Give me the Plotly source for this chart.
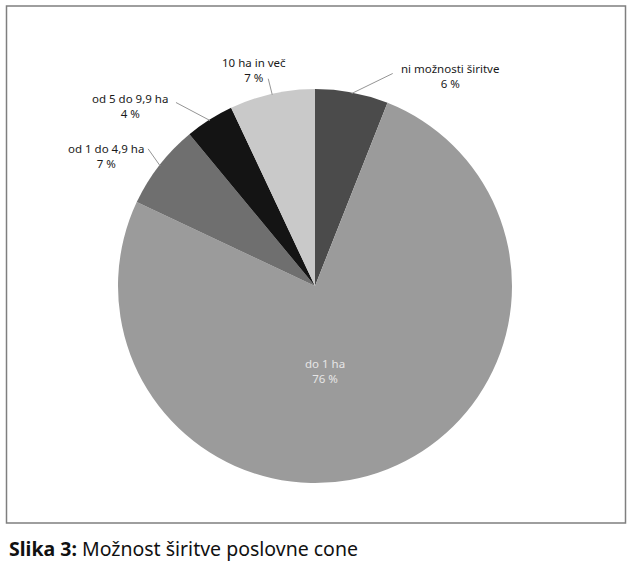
import math
import plotly.graph_objects as go

categories = ["ni možnosti širitve", "do 1 ha", "od 1 do 4,9 ha", "od 5 do 9,9 ha", "10 ha in več"]
values = [6, 76, 7, 4, 7]
pct_labels = ["6 %", "76 %", "7 %", "4 %", "7 %"]
colors = ["#4b4b4b", "#9b9b9b", "#6f6f6f", "#141414", "#c9c9c9"]

W, H = 637, 562
cx, cy, r = 315, 286, 197

fig = go.Figure(go.Pie(
    labels=categories, values=values, sort=False, direction="clockwise", rotation=0,
    marker=dict(colors=colors, line=dict(width=0)),
    textinfo="none", hoverinfo="label+percent", showlegend=False,
    domain=dict(x=[(cx - r) / W, (cx + r) / W], y=[(H - cy - r) / H, (H - cy + r) / H]),
))

# label placement relative to each slice's edge point (pixels): text centre, leader-line start
text_off = {0: (98, -17), 2: (-54, -10), 3: (-80, -15), 4: (-18, -25)}
line_off = {0: (41, -20), 2: (-12, -17), 3: (-34, -18), 4: (-4, -16)}

def px(x, y):
    return x / W, (H - y) / H

total = sum(values)
start = 0.0
annotations = []
shapes = [dict(type="rect", xref="paper", yref="paper",
               x0=6.5 / W, x1=625.5 / W, y0=(H - 523) / H, y1=(H - 6) / H,
               line=dict(color="#7f7f7f", width=1.5), fillcolor="rgba(0,0,0,0)")]
for i, v in enumerate(values):
    mid = math.radians((start + v / 2) / total * 360)
    start += v
    ex = cx + (r - 1) * math.sin(mid)
    ey = cy - (r - 1) * math.cos(mid)
    label = f"{categories[i]}<br>{pct_labels[i]}"
    if i in text_off:
        tx, ty = px(ex + text_off[i][0], ey + text_off[i][1])
        annotations.append(dict(
            x=tx, y=ty, xref="paper", yref="paper", xanchor="center", yanchor="middle",
            text=label, showarrow=False,
            font=dict(family="Noto Sans", size=11.5, color="#1a1a1a"), align="center",
        ))
        x0, y0 = px(ex + line_off[i][0], ey + line_off[i][1])
        x1, y1 = px(ex, ey)
        shapes.append(dict(type="line", xref="paper", yref="paper", x0=x0, y0=y0, x1=x1, y1=y1,
                           line=dict(color="#959595", width=1)))
    else:
        tx, ty = px(325, 371)
        annotations.append(dict(
            x=tx, y=ty, xref="paper", yref="paper", xanchor="center", yanchor="middle",
            text=label, showarrow=False,
            font=dict(family="Noto Sans", size=11.5, color="#e6e6e6"), align="center",
        ))

annotations.append(dict(
    x=7 / W, y=(H - 548) / H, xref="paper", yref="paper", xanchor="left", yanchor="middle",
    text="<b>Slika 3:</b> Možnost širitve poslovne cone", showarrow=False,
    font=dict(family="Noto Sans", size=19.5, color="#111111"),
))

fig.update_layout(
    width=W, height=H, margin=dict(l=0, r=0, t=0, b=0),
    paper_bgcolor="white", plot_bgcolor="white",
    annotations=annotations, shapes=shapes,
)

fig.write_html("out.html", config={"displayModeBar": False},
               post_script="document.body.style.margin='0';document.body.style.overflow='hidden';")
